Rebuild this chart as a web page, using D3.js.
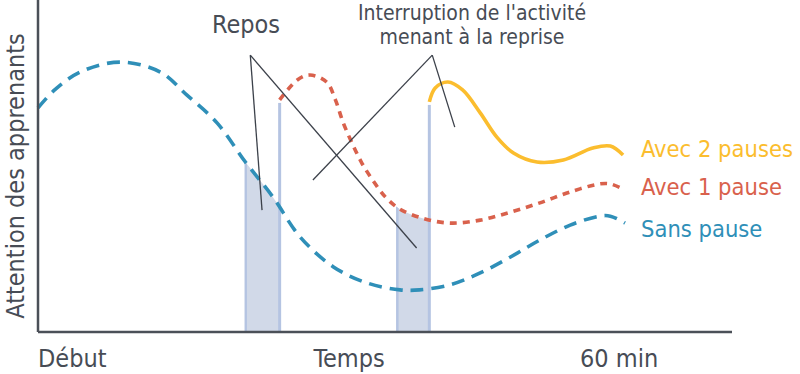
<!DOCTYPE html>
<html>
<head>
<meta charset="utf-8">
<script src="https://cdn.jsdelivr.net/npm/d3@7"></script>
<style>
  body { margin: 0; background: #fff; }
  svg text { font-family: "Ubuntu Condensed", "Liberation Sans Narrow", "DejaVu Sans Condensed", sans-serif; fill: #474c55; }
</style>
</head>
<body>
<div id="chart-area"></div>
<script>
// minutes since start / attention level (0-100)
const sansPauseMin = [0, 1.7, 4.3, 8.4, 12.5, 15.2, 18.3, 21.2, 24, 26.8, 30.2, 33.6, 37, 39, 42.1, 45.2, 48.3, 51.3, 54.4, 57.4, 58.5, 60];
const sansPauseVal = [67.5, 72.9, 78.3, 81.3, 78.3, 71.4, 63, 51.2, 40.7, 28.6, 19.6, 14.8, 12.7, 12.7, 14.2, 17.8, 22.6, 27.7, 32.2, 34.9, 34.9, 32.8];

const unePauseMin = [24.7, 26.5, 27.8, 29.5, 30.4, 31.2, 32.1, 33.1, 34.2, 35.5, 37, 39.4, 42.1, 45.2, 48.3, 51.3, 54.4, 57.4, 58.5, 60];
const unePauseVal = [69.9, 75.9, 77.4, 75.3, 69.9, 63, 56.9, 50.9, 45.8, 40.7, 37, 34.2, 32.8, 33.7, 36.1, 38.9, 42.2, 44.6, 44.6, 42.8];

const deuxPausesMin = [40, 40.6, 41.9, 43.4, 45.2, 46.9, 48.6, 51, 53.7, 56.7, 58.5, 59.8];
const deuxPausesVal = [69.3, 73.5, 75.3, 72.9, 66, 58.7, 53.9, 51.2, 51.8, 55.4, 56, 53.3];

const seriesNames = ['Sans pause', 'Avec 1 pause', 'Avec 2 pauses'];
const seriesColors = ['#2f8fb8', '#d9614c', '#fbbd2e'];

// rest periods: [start, end] in minutes, and which curve they sit under
const reposStart = [21.1, 36.6];
const reposEnd = [24.7, 40];
const reposUnder = [0, 1];

const xTickValues = [0, 31.8, 59.4];
const xTickLabels = ['Début', 'Temps', '60 min'];

const margins = { left: 38, right: 68, top: 0, bottom: 42 };
const width = 800 - margins.left - margins.right;
const height = 374 - margins.top - margins.bottom;

const svg = d3.select('#chart-area')
  .append('svg')
  .attr('width', 800)
  .attr('height', 374);

const g = svg.append('g')
  .attr('transform', 'translate(' + margins.left + ', ' + margins.top + ')');

const x = d3.scaleLinear()
  .domain([0, 60])
  .range([0, 587]);

const y = d3.scaleLinear()
  .domain([0, 100])
  .range([height, 0]);

const series = [
  d3.zip(sansPauseMin, sansPauseVal),
  d3.zip(unePauseMin, unePauseVal),
  d3.zip(deuxPausesMin, deuxPausesVal)
];

const line = d3.line()
  .x((d) => x(d[0]))
  .y((d) => y(d[1]))
  .curve(d3.curveCatmullRom.alpha(0.5));

const area = d3.area()
  .x((d) => x(d[0]))
  .y0(height)
  .y1((d) => y(d[1]))
  .curve(d3.curveCatmullRom.alpha(0.5));

// shaded rest periods
reposStart.forEach((start, i) => {
  const bandId = 'clip-band-' + i;
  const areaId = 'clip-area-' + i;
  g.append('clipPath')
    .attr('id', bandId)
    .append('rect')
    .attr('x', x(start))
    .attr('y', 0)
    .attr('width', x(reposEnd[i]) - x(start))
    .attr('height', height);

  g.append('clipPath')
    .attr('id', areaId)
    .append('path')
    .attr('d', area(series[reposUnder[i]]));

  const band = g.append('g')
    .attr('clip-path', 'url(#' + bandId + ')')
    .append('g')
    .attr('clip-path', 'url(#' + areaId + ')');

  band.append('rect')
    .attr('x', x(start))
    .attr('y', 0)
    .attr('width', x(reposEnd[i]) - x(start))
    .attr('height', height)
    .attr('fill', '#d1d9e8');

  // left edge of the band
  band.append('rect')
    .attr('x', x(start))
    .attr('y', 0)
    .attr('width', 2.5)
    .attr('height', height)
    .attr('fill', '#b5c4e2');
});

// resume markers: vertical lines where each restarted curve begins
[series[1][0], series[2][0]].forEach((d) => {
  g.append('line')
    .attr('x1', x(d[0]))
    .attr('x2', x(d[0]))
    .attr('y1', y(d[1]) + 3)
    .attr('y2', height)
    .attr('stroke', '#b5c4e2')
    .attr('stroke-width', 3);
});

// curves
const dashes = ['13 8', '7 6', null];
series.forEach((s, i) => {
  g.append('path')
    .attr('d', line(s))
    .attr('fill', 'none')
    .attr('stroke', seriesColors[i])
    .attr('stroke-width', 3.6)
    .attr('stroke-dasharray', dashes[i]);
});

// series labels
const labelY = [237, 195, 157];
seriesNames.forEach((name, i) => {
  g.append('text')
    .attr('x', 603)
    .attr('y', labelY[i])
    .attr('font-size', '23.5px')
    .style('fill', seriesColors[i])
    .text(name);
});

// annotation pointers (minutes / attention)
const pointers = [
  { from: [21.7, 83.4], to: [22.9, 36.7] },
  { from: [21.7, 83.4], to: [38.7, 25.3] },
  { from: [40.3, 83.4], to: [28.1, 45.8] },
  { from: [40.3, 83.4], to: [42.6, 61.7] }
];
pointers.forEach((p) => {
  g.append('line')
    .attr('x1', x(p.from[0]))
    .attr('y1', y(p.from[1]))
    .attr('x2', x(p.to[0]))
    .attr('y2', y(p.to[1]))
    .attr('stroke', '#3c414a')
    .attr('stroke-width', 1.3);
});

g.append('text')
  .attr('x', 208)
  .attr('y', 33)
  .attr('text-anchor', 'middle')
  .attr('font-size', '25px')
  .text('Repos');

g.append('text')
  .attr('x', 434)
  .attr('y', 20)
  .attr('text-anchor', 'middle')
  .attr('font-size', '21px')
  .text("Interruption de l'activité");

g.append('text')
  .attr('x', 434)
  .attr('y', 44)
  .attr('text-anchor', 'middle')
  .attr('font-size', '21px')
  .text('menant à la reprise');

// axes
g.append('line')
  .attr('x1', 0).attr('x2', 0)
  .attr('y1', 0).attr('y2', height)
  .attr('stroke', '#4b5058')
  .attr('stroke-width', 2.5);

g.append('line')
  .attr('x1', 0).attr('x2', width)
  .attr('y1', height).attr('y2', height)
  .attr('stroke', '#4b5058')
  .attr('stroke-width', 2.5);

const xTickAnchor = ['start', 'middle', 'middle'];
xTickValues.forEach((v, i) => {
  g.append('text')
    .attr('x', x(v))
    .attr('y', height + 35)
    .attr('text-anchor', xTickAnchor[i])
    .attr('font-size', '25px')
    .text(xTickLabels[i]);
});

// Y Label
svg.append('text')
  .attr('x', -176)
  .attr('y', 24)
  .attr('text-anchor', 'middle')
  .attr('font-size', '25px')
  .attr('transform', 'rotate(-90)')
  .text('Attention des apprenants');
</script>
</body>
</html>
